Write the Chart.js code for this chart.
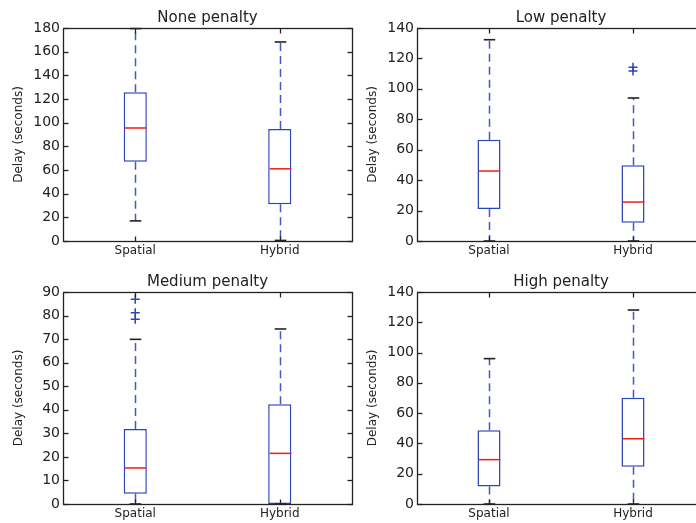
<!DOCTYPE html>
<html>
<head>
<meta charset="utf-8">
<script src="https://cdn.jsdelivr.net/npm/chart.js@4.4.1/dist/chart.umd.min.js"></script>
<style>
html, body { margin: 0; padding: 0; width: 696px; height: 523px; overflow: hidden; background: #ffffff; }
.cell { position: absolute; }
canvas { display: block; }
</style>
</head>
<body>
<div class="cell" style="left:0px;top:0px;"><canvas id="c0" width="360" height="260"></canvas></div>
<div class="cell" style="left:354px;top:0px;"><canvas id="c1" width="359" height="260"></canvas></div>
<div class="cell" style="left:0px;top:264px;"><canvas id="c2" width="360" height="260"></canvas></div>
<div class="cell" style="left:354px;top:264px;"><canvas id="c3" width="359" height="260"></canvas></div>
<script>
// ---------- data ----------
const categories = ['Spatial', 'Hybrid'];
const panelTitles = ['None penalty', 'Low penalty', 'Medium penalty', 'High penalty'];
const yAxisLabel = 'Delay (seconds)';
const yAxisMax = [180, 140, 90, 140];
const yAxisStep = [20, 20, 10, 20];
// per panel: [Spatial, Hybrid]
const whiskerLow  = [[17, 0.5], [0, 0], [0, 0], [0, 0]];
const quartile1   = [[67, 31], [21, 12], [4.4, 0], [11.5, 24.6]];
const medians     = [[95.5, 61], [46, 25.6], [15.3, 21.5], [29.3, 43.1]];
const quartile3   = [[125.7, 94.7], [66.6, 49.8], [31.8, 42.3], [48.7, 70.2]];
const whiskerHigh = [[179.5, 168.2], [132.3, 94], [69.9, 74.3], [96, 128.1]];
const fliers      = [[[], []], [[], [111.8, 114.2]], [[86.9, 81.2, 78.4], []], [[], []]];

// ---------- styles ----------
const FONT = "'DejaVu Sans', sans-serif";
const TEXT = '#222222';
const BLUE = '#2a46b4';
const WHISK = '#3f5dbf';
const RED = '#f01c1c';
const CAP = '#222222';

function strokeLine(ctx, x1, y1, x2, y2) {
  ctx.beginPath(); ctx.moveTo(x1, y1); ctx.lineTo(x2, y2); ctx.stroke();
}

const boxPlugin = {
  id: 'boxExtras',
  afterDatasetsDraw(chart, args, opts) {
    const p = opts.panel;
    const ctx = chart.ctx;
    const xs = chart.scales.x, ys = chart.scales.y;
    const bars = chart.getDatasetMeta(0).data;
    ctx.save();
    categories.forEach((c, i) => {
      const cx = Math.round(xs.getPixelForValue(i)) + 0.5;
      const w = bars[i].width;
      const yq1 = ys.getPixelForValue(quartile1[p][i]);
      const yq3 = ys.getPixelForValue(quartile3[p][i]);
      const ylo = ys.getPixelForValue(whiskerLow[p][i]);
      const yhi = ys.getPixelForValue(whiskerHigh[p][i]);
      const ymed = ys.getPixelForValue(medians[p][i]);
      // whiskers
      ctx.strokeStyle = WHISK; ctx.lineWidth = 1.5; ctx.setLineDash([8, 5]);
      strokeLine(ctx, cx, yq3, cx, yhi);
      strokeLine(ctx, cx, yq1, cx, ylo);
      ctx.setLineDash([]);
      // caps
      ctx.strokeStyle = CAP; ctx.lineWidth = 1.6;
      strokeLine(ctx, cx - w / 4, yhi, cx + w / 4, yhi);
      strokeLine(ctx, cx - w / 4, ylo, cx + w / 4, ylo);
      // median
      ctx.strokeStyle = RED; ctx.lineWidth = 1.5;
      strokeLine(ctx, cx - w / 2 + 0.7, ymed, cx + w / 2 - 0.7, ymed);
    });
    ctx.restore();
  }
};

const framePlugin = {
  id: 'frameTicks',
  afterDraw(chart, args, opts) {
    const ctx = chart.ctx, a = chart.chartArea;
    const L = Math.round(a.left) + 0.5, R = Math.round(a.right) + 0.5;
    const T = Math.round(a.top) + 0.5, B = Math.round(a.bottom) + 0.5;
    ctx.save();
    ctx.strokeStyle = '#222222'; ctx.lineWidth = 1.3;
    ctx.strokeRect(L, T, R - L, B - T);
    const ys = chart.scales.y, xs = chart.scales.x;
    ys.ticks.forEach((t, i) => {
      const py = Math.round(ys.getPixelForTick(i)) + 0.5;
      strokeLine(ctx, L, py, L + 5, py);
      strokeLine(ctx, R, py, R - 5, py);
    });
    xs.ticks.forEach((t, i) => {
      const px = Math.round(xs.getPixelForTick(i)) + 0.5;
      strokeLine(ctx, px, B, px, B - 5);
      strokeLine(ctx, px, T, px, T + 5);
    });
    // panel title centred over the plot area
    ctx.fillStyle = TEXT;
    ctx.font = "15px " + FONT;
    ctx.textAlign = 'center';
    ctx.textBaseline = 'alphabetic';
    ctx.fillText(opts.title, (a.left + a.right) / 2, opts.titleBaseline);
    ctx.restore();
  }
};

function makePanel(idx, canvasId, xAxisHeight, titleBaseline) {
  const boxData = categories.map((c, i) => [quartile1[idx][i], quartile3[idx][i]]);
  const flierData = [];
  categories.forEach((c, i) => fliers[idx][i].forEach(v => flierData.push({ x: c, y: v })));
  new Chart(document.getElementById(canvasId), {
    type: 'bar',
    data: {
      labels: categories,
      datasets: [
        {
          type: 'bar', data: boxData, backgroundColor: '#ffffff', borderColor: BLUE,
          borderWidth: 1.5, borderSkipped: false, barPercentage: 0.16, categoryPercentage: 1
        },
        {
          type: 'line', data: flierData, showLine: false, pointStyle: 'cross',
          pointRadius: 4.5, borderColor: BLUE, pointBorderColor: BLUE, pointBorderWidth: 1.5, borderWidth: 1.5
        }
      ]
    },
    options: {
      responsive: false, animation: false, events: [],
      layout: { padding: { left: 0, right: 8, top: 28, bottom: 0 } },
      plugins: {
        legend: { display: false },
        tooltip: { enabled: false },
        title: { display: false },
        boxExtras: { panel: idx },
        frameTicks: { title: panelTitles[idx], titleBaseline: titleBaseline }
      },
      scales: {
        x: {
          type: 'category', offset: true,
          grid: { display: false, drawTicks: false }, border: { display: false },
          ticks: { color: TEXT, font: { family: FONT, size: 12 }, padding: 3, maxRotation: 0, autoSkip: false },
          afterFit(s) { s.height = xAxisHeight; }
        },
        y: {
          min: 0, max: yAxisMax[idx],
          grid: { display: false, drawTicks: false }, border: { display: false },
          ticks: { stepSize: yAxisStep[idx], autoSkip: false, color: TEXT, font: { family: FONT, size: 14 }, padding: 3 },
          title: { display: true, text: yAxisLabel, color: TEXT, font: { family: FONT, size: 12 }, padding: { top: 12, bottom: 0 } },
          afterFit(s) { s.width = 63; }
        }
      }
    },
    plugins: [boxPlugin, framePlugin]
  });
}

makePanel(0, 'c0', 19, 22);
makePanel(1, 'c1', 19, 22);
makePanel(2, 'c2', 20, 22);
makePanel(3, 'c3', 20, 22);
</script>
</body>
</html>
